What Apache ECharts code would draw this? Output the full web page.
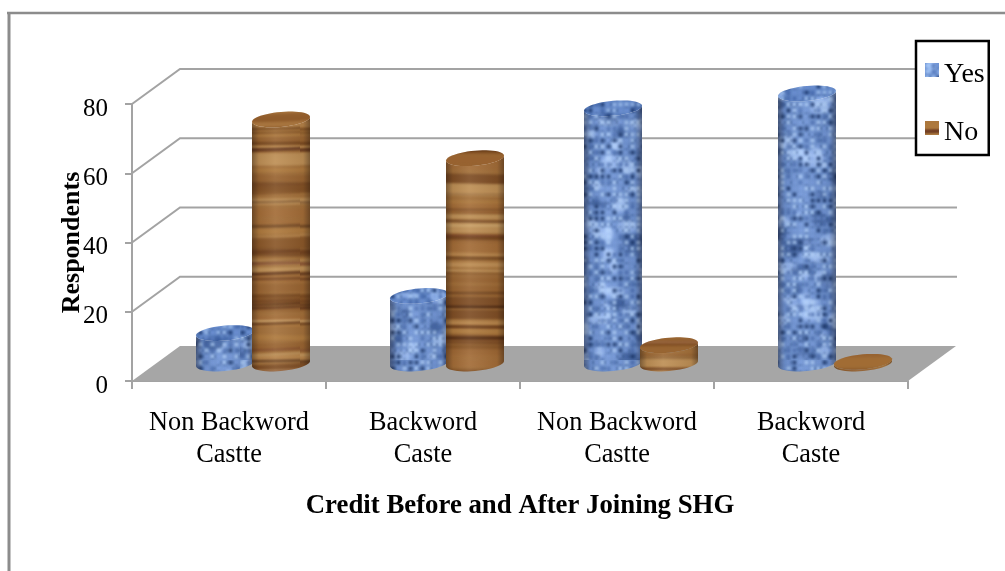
<!DOCTYPE html>
<html><head><meta charset="utf-8">
<style>html,body{margin:0;padding:0;background:#fff}#c{width:1005px;height:571px}</style>
<script src="https://cdn.jsdelivr.net/npm/echarts@6/dist/echarts.min.js"></script>
</head><body><div id="c"></div>
<script>
const categories = ['Non Backword\nCastte','Backword\nCaste','Non Backword\nCastte','Backword\nCaste'];
const yesValues = [8.8, 19.5, 73.7, 78];
const noValues = [70.5, 59.3, 5.3, 0.5];
const yTicks = [0, 20, 40, 60, 80];

const SERIF = '"Liberation Serif","Times New Roman",serif';
const DEPTH_X = 48, DEPTH_Y = -35, RADIUS = 29, GAP = 28;

function seeded(s){ return function(){ s = (s*1664525+1013904223)>>>0; return s/4294967296; }; }
function woodTexture(seed){
  const W=300,H=400;
  const c=document.createElement('canvas'); c.width=W; c.height=H;
  const g=c.getContext('2d'), r=seeded(seed);
  g.fillStyle='#a3703a'; g.fillRect(0,0,W,H);
  g.filter='blur(1.2px)';
  const broad=['#bb8a4f','#96622f','#c4975c','#a36c37','#855326','#b07c3e','#754620'];
  for(let y=0;y<H;y+=4+r()*9){
    g.strokeStyle=broad[Math.floor(r()*broad.length)]; g.lineWidth=4+r()*9; g.globalAlpha=.8;
    const w=r()*6-3;
    g.beginPath(); g.moveTo(-8,y+w); g.bezierCurveTo(W*.33,y+w-3,W*.66,y-w+3,W+8,y+w); g.stroke();
  }
  g.filter='blur(0.8px)';
  const fine=['#4d2410','#5e2f14','#6b2f22','#3f1d0c','#6f4019','#d0a870'];
  for(let i=0;i<36;i++){
    const y=r()*H, d=2+r()*4;
    g.strokeStyle=fine[Math.floor(r()*fine.length)]; g.lineWidth=.8+r()*2; g.globalAlpha=.45+r()*.45;
    g.beginPath(); g.moveTo(-8,y); g.bezierCurveTo(W*.3,y-d,W*.6,y+d,W+8,y-d*.5); g.stroke();
  }
  return c;
}
function blueTexture(seed){
  const W=240,H=360;
  const c=document.createElement('canvas'); c.width=W; c.height=H;
  const g=c.getContext('2d'), r=seeded(seed);
  g.fillStyle='#6d92d2'; g.fillRect(0,0,W,H);
  g.filter='blur(1.5px)';
  for(let i=0;i<240;i++){
    g.fillStyle=r()<.6?'rgba(170,202,252,.8)':'rgba(45,78,140,.55)';
    g.beginPath(); g.ellipse(r()*W,r()*H,3+r()*9,2+r()*6,0,0,7); g.fill();
  }
  g.filter='blur(0.9px)';
  for(let y=0;y<H;y+=6){ for(let x=0;x<W;x+=6){
    const v=r();
    g.fillStyle = v<.17?'rgba(22,50,105,.8)': v<.36?'rgba(60,95,165,.6)': v<.68?'rgba(180,210,252,.7)':'rgba(125,160,230,.4)';
    g.fillRect(x+.6,y+.6,3.8,3.8);
    if(r()<.42){ g.fillStyle='rgba(25,55,110,.65)'; g.fillRect(x+4.6,y+1,1.2,3);}
    if(r()<.42){ g.fillStyle='rgba(35,65,125,.55)'; g.fillRect(x+1,y+4.6,3,1.2);}
  }}
  return c;
}
const woodPats=[11,29,47,83].map(s=>({image:woodTexture(s),repeat:'repeat'}));
const bluePats=[7,31,53,97].map(s=>({image:blueTexture(s),repeat:'repeat'}));

function cylinder(patterns, capTint, side){
  return function(params, api){
    const idx=api.value(0), val=api.value(1);
    const top=api.coord([idx,val]), base=api.coord([idx,0]);
    const cx=base[0]+DEPTH_X/2+side*GAP;
    const by=base[1]+DEPTH_Y/2, ty=top[1]+DEPTH_Y/2;
    const a=RADIUS,b=7.5,k=2.5;
    const pt=(cy,t)=>[cx+a*Math.cos(t), cy+b*Math.sin(t)-k*Math.cos(t)];
    const body=[];
    for(let i=0;i<=24;i++) body.push(pt(by,Math.PI-Math.PI*i/24));
    for(let i=0;i<=24;i++) body.push(pt(ty,Math.PI*i/24));
    const cap=[];
    for(let i=0;i<48;i++) cap.push(pt(ty,2*Math.PI*i/48));
    const shade={type:'linear',x:0,y:0,x2:1,y2:0,colorStops:[
      {offset:0,color:'rgba(25,15,10,.4)'},{offset:.12,color:'rgba(25,15,10,.08)'},
      {offset:.4,color:'rgba(255,255,255,.08)'},{offset:.88,color:'rgba(25,15,10,.08)'},
      {offset:1,color:'rgba(25,15,10,.4)'}]};
    const pattern=patterns[idx];
    return {type:'group',children:[
      {type:'polygon',shape:{points:body},style:{fill:pattern},silent:true},
      {type:'polygon',shape:{points:body},style:{fill:shade},silent:true},
      {type:'polygon',shape:{points:cap},style:{fill:pattern},silent:true},
      {type:'polygon',shape:{points:cap},style:{fill:capTint},silent:true}
    ]};
  };
}
function wall(params, api){
  const v=api.value(0), y=api.coord([0,v])[1];
  const cs=params.coordSys, x0=cs.x, x1=cs.x+cs.width;
  const ln={stroke:'#a3a3a3',lineWidth:2,fill:null};
  const kids=[];
  if(v===0){
    kids.push({type:'polygon',shape:{points:[[x0,y],[x1,y],[x1+DEPTH_X,y+DEPTH_Y],[x0+DEPTH_X,y+DEPTH_Y]]},style:{fill:'#a6a6a6'},silent:true});
  } else {
    kids.push({type:'polyline',shape:{points:[[x0,y],[x0+DEPTH_X,y+DEPTH_Y],[x1+DEPTH_X+1,y+DEPTH_Y]]},style:ln,silent:true});
  }
  return {type:'group',children:kids};
}
const axisLine={show:true,lineStyle:{color:'#a3a3a3',width:2}};
const chart=echarts.init(document.getElementById('c'),null,{renderer:'canvas'});
chart.setOption({
  animation:false,
  backgroundColor:'#fff',
  textStyle:{fontFamily:SERIF},
  graphic:[
    {type:'line',silent:true,z:-10,shape:{x1:7,y1:13,x2:1005,y2:13},style:{stroke:'#8c8c8c',lineWidth:2.5}},
    {type:'line',silent:true,z:-10,shape:{x1:9,y1:12,x2:9,y2:571},style:{stroke:'#8c8c8c',lineWidth:3}}
  ],
  grid:{left:132,top:104,width:776,height:277,containLabel:false},
  legend:{
    show:true,left:916,top:41,orient:'vertical',
    backgroundColor:'#fff',borderColor:'#000',borderWidth:2.5,borderRadius:0,
    padding:[20,4,8,9],itemGap:30,itemWidth:14,itemHeight:14,
    formatter:'{t|{name}}',
    textStyle:{fontFamily:SERIF,fontSize:28,color:'#000',
      rich:{t:{fontFamily:SERIF,fontSize:28,color:'#000',padding:[10,0,0,0]}}},
    data:[{name:'Yes',icon:'rect',itemStyle:{color:bluePats[0]}},{name:'No',icon:'rect',itemStyle:{color:woodPats[0]}}],
    selectedMode:false,z:20
  },
  xAxis:{type:'category',data:categories,boundaryGap:true,
    name:'Credit Before and After Joining SHG',nameLocation:'middle',nameGap:112,
    nameTextStyle:{fontFamily:SERIF,fontSize:26.8,fontWeight:'bold',color:'#000'},
    axisLine:axisLine,axisTick:{show:true,alignWithLabel:false,length:8,lineStyle:{color:'#a3a3a3',width:2}},
    axisLabel:{fontFamily:SERIF,fontSize:26.3,color:'#000',lineHeight:32,margin:26,interval:0},
    splitLine:{show:false}},
  yAxis:[{type:'value',min:0,max:80,interval:20,
    axisLine:axisLine,axisTick:{show:true,length:7,lineStyle:{color:'#a3a3a3',width:2}},
    axisLabel:{fontFamily:SERIF,fontSize:25,color:'#000',margin:24,verticalAlign:'top',lineHeight:10},
    splitLine:{show:false}},
   {type:'value',min:0,max:80,interval:20,position:'left',
    name:'Respondents',nameLocation:'middle',nameGap:47,nameRotate:90,
    nameTextStyle:{fontFamily:SERIF,fontSize:26,fontWeight:'bold',color:'#000'},
    axisLine:{show:false},axisTick:{show:false},axisLabel:{show:false},splitLine:{show:false}}],
  series:[
    {type:'custom',name:'walls',coordinateSystem:'cartesian2d',clip:false,z:1,silent:true,
     renderItem:wall,encode:{y:0},data:yTicks.map(v=>[v])},
    {type:'custom',name:'Yes',coordinateSystem:'cartesian2d',clip:false,z:3,silent:true,
     renderItem:cylinder(bluePats,'rgba(30,60,120,.1)',-1),encode:{x:0,y:1},
     data:yesValues.map((v,i)=>[i,v])},
    {type:'custom',name:'No',coordinateSystem:'cartesian2d',clip:false,z:4,silent:true,
     renderItem:cylinder(woodPats,'rgba(110,60,20,.2)',1),encode:{x:0,y:1},
     data:noValues.map((v,i)=>[i,v])}
  ]
});
</script></body></html>
